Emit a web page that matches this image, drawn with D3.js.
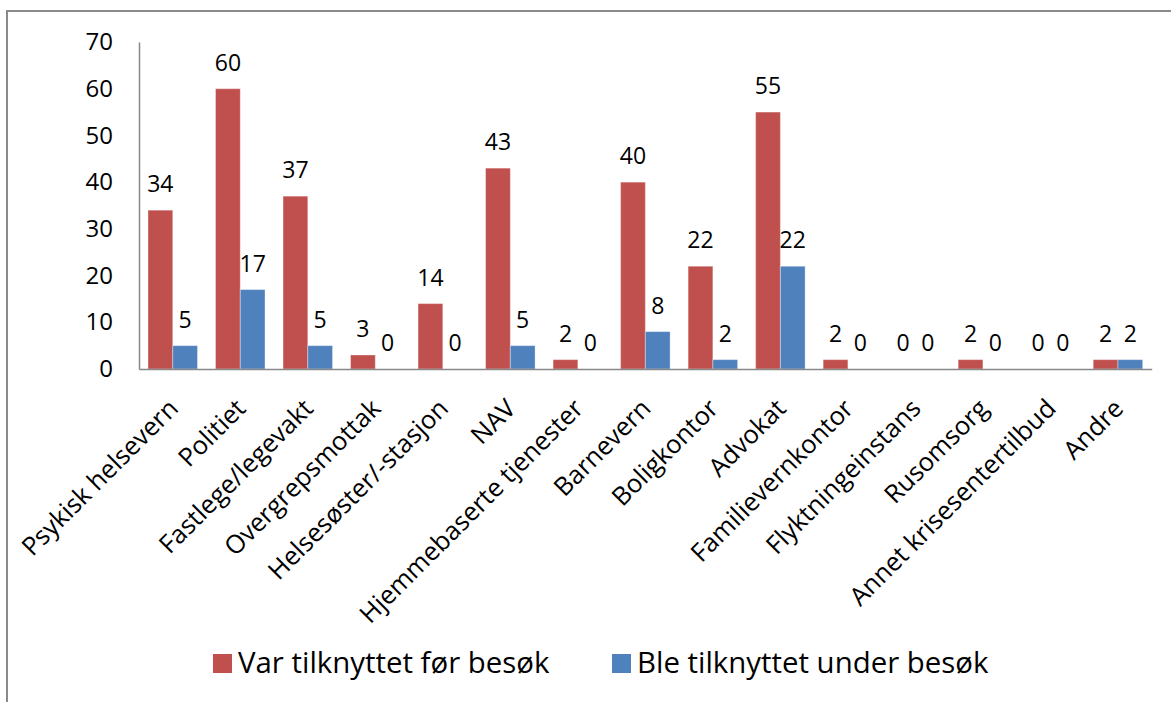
<!DOCTYPE html>
<html>
<head>
<meta charset="utf-8">
<script src="https://cdn.jsdelivr.net/npm/d3@7"></script>
<style>
  html, body { margin: 0; padding: 0; background: #fff; }
  svg { display: block; }
  text { font-family: "Open Sans", sans-serif; fill: #000; }
</style>
</head>
<body>
<svg id="chart" width="1171" height="702"></svg>
<script>
const categories = ["Psykisk helsevern", "Politiet", "Fastlege/legevakt", "Overgrepsmottak",
  "Helsesøster/-stasjon", "NAV", "Hjemmebaserte tjenester", "Barnevern", "Boligkontor",
  "Advokat", "Familievernkontor", "Flyktningeinstans", "Rusomsorg",
  "Annet krisesentertilbud", "Andre"];
const seriesNames = ["Var tilknyttet før besøk", "Ble tilknyttet under besøk"];
const before = [34, 60, 37, 3, 14, 43, 2, 40, 22, 55, 2, 0, 2, 0, 2];
const during = [5, 17, 5, 0, 0, 5, 0, 8, 2, 22, 0, 0, 0, 0, 2];
const yTicks = [0, 10, 20, 30, 40, 50, 60, 70];
const colors = ["#C0504D", "#4F81BD"];

(function () {
const svg = d3.select("#chart");

// outer frame
svg.append("rect").attr("x", 7).attr("y", 11).attr("width", 1200).attr("height", 720)
  .attr("fill", "#fff").attr("stroke", "#8a8a8a").attr("stroke-width", 2);

const pLeft = 139, pRight = 1151.7, pTop = 42, pBottom = 369;

const x0 = d3.scaleBand().domain(categories).range([pLeft, pRight]).paddingInner(0).paddingOuter(0);
const gw = x0.bandwidth() * 0.733;
const x1 = d3.scaleBand().domain(seriesNames).range([0, gw]);
const gOff = (x0.bandwidth() - gw) / 2;
const y = d3.scaleLinear().domain([0, 70]).range([pBottom, pTop]);

const series = [before, during];
const data = [];
categories.forEach((c, i) => {
  seriesNames.forEach((s, j) => data.push({ c, s, j, v: series[j][i] }));
});

// bars
svg.append("g").selectAll("rect").data(data).join("rect")
  .attr("x", d => x0(d.c) + gOff + x1(d.s))
  .attr("y", d => y(d.v))
  .attr("width", x1.bandwidth())
  .attr("height", d => y(0) - y(d.v))
  .attr("fill", d => colors[d.j])
  .attr("stroke", "rgba(255,255,255,0.35)")
  .attr("stroke-width", 1);

// data labels
svg.append("g").selectAll("text").data(data).join("text")
  .attr("x", d => x0(d.c) + gOff + x1(d.s) + x1.bandwidth() / 2)
  .attr("y", d => y(d.v) - 18)
  .attr("text-anchor", "middle")
  .style("font-size", "23px")
  .text(d => d.v);

// y axis
const yAxis = d3.axisLeft(y).tickValues(yTicks).tickSize(0).tickPadding(26);
const gy = svg.append("g").attr("transform", `translate(${pLeft},0)`).call(yAxis);
gy.select(".domain").attr("stroke", "#888").attr("stroke-width", 1.5);
gy.selectAll("text").style("font-size", "24px").style("font-family", "'Open Sans', sans-serif").attr("fill", "#000");

// x axis
const xAxis = d3.axisBottom(x0).tickSize(0).tickFormat("");
const gx = svg.append("g").attr("transform", `translate(0,${pBottom})`).call(xAxis);
gx.select(".domain").attr("stroke", "#888").attr("stroke-width", 1.5);

// category labels rotated
svg.append("g").selectAll("text").data(categories).join("text")
  .attr("transform", d => `translate(${x0(d) + x0.bandwidth() / 2 + 7},410) rotate(-45)`)
  .attr("text-anchor", "end")
  .style("font-size", "25.5px")
  .text(d => d);

// legend
const legendX = [213, 612];
const lg = svg.append("g").selectAll("g").data(seriesNames).join("g")
  .attr("transform", (d, i) => `translate(${legendX[i]},0)`);
lg.append("rect").attr("x", 0).attr("y", 654).attr("width", 19).attr("height", 19)
  .attr("fill", (d, i) => colors[i]);
lg.append("text").attr("x", 25).attr("y", 673).style("font-size", "29.4px").text(d => d);
})();
</script>
</body>
</html>
